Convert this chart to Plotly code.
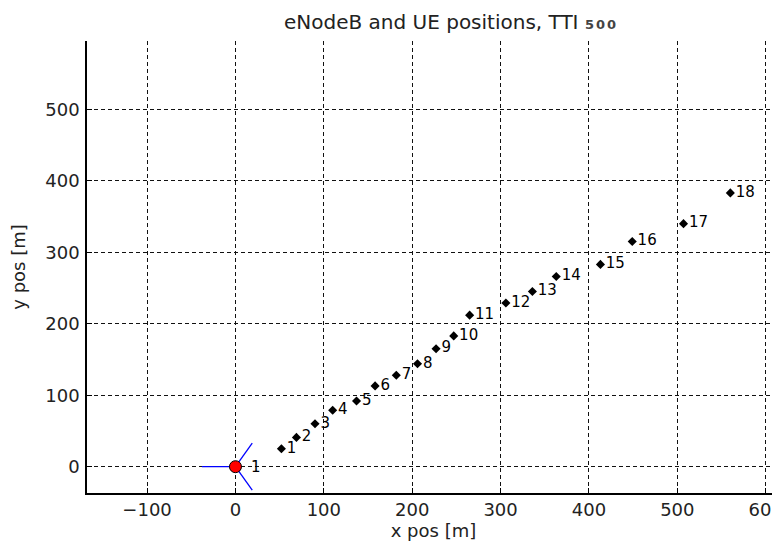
import numpy as np
import plotly.graph_objects as go

# ---- data ----
ue_ids = [str(i) for i in range(1, 19)]
ue_x = [52, 69, 90, 110, 137, 158, 182, 206, 227, 247, 265, 306, 336, 363, 413, 449, 507, 560]
ue_y = [25, 41, 60, 79, 92, 113, 128, 144, 165, 183, 212, 229, 245, 266, 283, 315, 340, 383]

enb_ids = ["1"]
enb_x = [0]
enb_y = [0]
sector_azimuth_deg = [180, 60, -60]
antenna_len = 38

x_ticks = [-100, 0, 100, 200, 300, 400, 500, 600]
y_ticks = [0, 100, 200, 300, 400, 500]

title_main = "eNodeB and UE positions, TTI"
tti = "500"

FONT = "DejaVu Sans"
PAGE_OFFSET = 8  # browser body margin

fig = go.Figure()

# antenna direction lines
for ex, ey in zip(enb_x, enb_y):
    for az in sector_azimuth_deg:
        a = np.deg2rad(az)
        fig.add_trace(go.Scatter(
            x=[ex, ex + antenna_len * np.cos(a)],
            y=[ey, ey + antenna_len * np.sin(a)],
            mode="lines", line=dict(color="#0000ff", width=1.3),
            hoverinfo="skip", showlegend=False, cliponaxis=True))

# eNodeB marker
fig.add_trace(go.Scatter(
    x=enb_x, y=enb_y, mode="markers",
    marker=dict(symbol="circle", size=12, color="#ff0000",
                line=dict(color="black", width=1)),
    showlegend=False))
for ex, ey, eid in zip(enb_x, enb_y, enb_ids):
    fig.add_annotation(x=ex, y=ey, text=eid, showarrow=False,
                       xanchor="left", yanchor="middle", xshift=14,
                       font=dict(family=FONT, size=15, color="black"))

# UEs
fig.add_trace(go.Scatter(
    x=ue_x, y=ue_y, mode="markers+text", text=ue_ids,
    textposition="middle right",
    textfont=dict(family=FONT, size=15, color="black"),
    marker=dict(symbol="diamond", size=7, color="black"),
    showlegend=False, cliponaxis=False))

grid = dict(showgrid=True, gridcolor="#111111", gridwidth=1, griddash="4px,3px",
            zeroline=False, showline=True, linecolor="black", linewidth=1.5,
            ticks="inside", ticklen=5, tickcolor="black", tickwidth=1,
            automargin=False, ticklabeloverflow="allow",
            tickfont=dict(family=FONT, size=18, color="#222222"))

fig.update_xaxes(range=[-168, 616.2], tickvals=x_ticks,
                 title=dict(text="x pos [m]", font=dict(family=FONT, size=18, color="#222222"), standoff=4),
                 mirror=False, **grid)
fig.update_yaxes(range=[-36.8, 595.5], tickvals=y_ticks, ticklabelstandoff=2,
                 title=dict(text="y pos [m]", font=dict(family=FONT, size=18, color="#222222"), standoff=20),
                 mirror=False, **grid)

W, H = 780 - PAGE_OFFSET, 542 - PAGE_OFFSET
fig.update_layout(
    width=W, height=H, autosize=False,
    margin=dict(l=87 - PAGE_OFFSET, r=0, t=41 - PAGE_OFFSET, b=49),
    paper_bgcolor="white", plot_bgcolor="white",
    title=dict(text=(f"{title_main} "
                     f"<span style='font-size:13px;font-weight:bold;letter-spacing:2px;fill:#444'>{tti}</span>"),
               x=(451 - PAGE_OFFSET) / W, xanchor="center",
               y=1 - (21.5 - PAGE_OFFSET) / H, yanchor="middle",
               font=dict(family=FONT, size=20, color="#222222")),
)

fig.write_html("out.html")
